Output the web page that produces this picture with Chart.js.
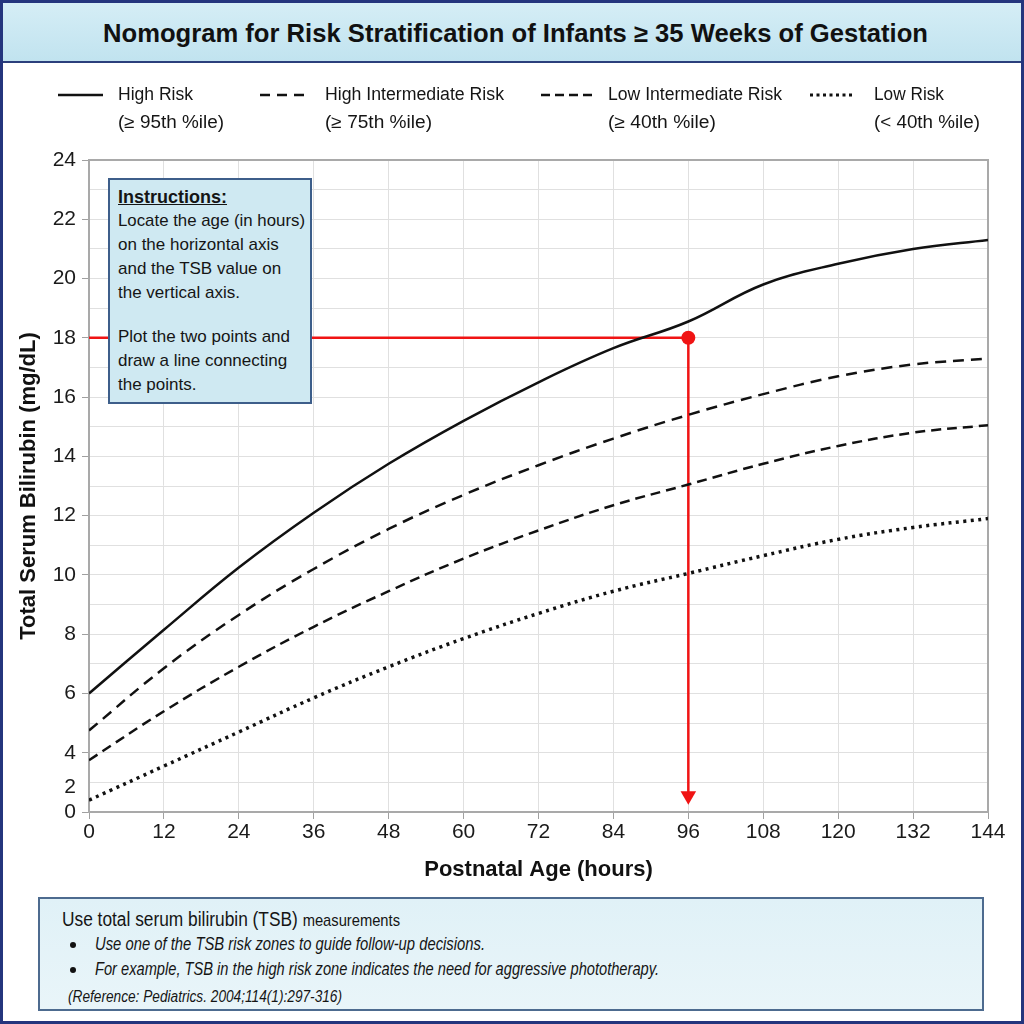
<!DOCTYPE html>
<html>
<head>
<meta charset="utf-8">
<script src="https://cdn.jsdelivr.net/npm/chart.js@4.4.0/dist/chart.umd.min.js"></script>
<style>
  html, body { margin: 0; padding: 0; background: #fff; }
  #page { position: relative; width: 1024px; height: 1024px; overflow: hidden; background: #fff;
          font-family: "Liberation Sans", Arial, sans-serif; color: #151515; }
  #chart { position: absolute; left: 0; top: 0; }
  #frame { position: absolute; left: 0; top: 0; width: 1024px; height: 1024px; box-sizing: border-box;
           border: 3px solid #24357d; pointer-events: none; }
  #titlebar { position: absolute; left: 0; top: 0; width: 1024px; height: 61px;
              background: linear-gradient(#d6eef6, #c1e3ef); border-bottom: 2px solid #2b3f7c; }
  .fit { position: absolute; display: inline-block; white-space: nowrap; transform-origin: left center; }
  #title { left: 103px; top: 18px; font-size: 25px; line-height: 30px; font-weight: bold; color: #111; }
  .leg { font-size: 18px; line-height: 22px; }
  #legendLines { position: absolute; left: 0; top: 80px; }
  #instr { position: absolute; left: 108px; top: 178px; width: 204px; height: 226px; box-sizing: border-box;
           background: #cfe9f2; border: 2px solid #3d5e8a; }
  #instr .fit { font-size: 17px; line-height: 24px; }
  #note { position: absolute; left: 38px; top: 897px; width: 946px; height: 114px; box-sizing: border-box;
          background: linear-gradient(#e0f1f7, #e9f5f9); border: 2px solid #4d6b8f; }
  .dot { position: absolute; width: 6px; height: 6px; border-radius: 3px; background: #111; }
</style>
</head>
<body>
<div id="page">
  <canvas id="chart" width="1024" height="1024"></canvas>

  <div id="titlebar"></div>
  <span class="fit" id="title" data-w="825">Nomogram for Risk Stratification of Infants ≥ 35 Weeks of Gestation</span>

  <svg id="legendLines" width="1024" height="30">
    <line x1="58" y1="15" x2="103" y2="15" stroke="#111" stroke-width="2.5"/>
    <line x1="260" y1="15" x2="305" y2="15" stroke="#111" stroke-width="2.5" stroke-dasharray="10 7"/>
    <line x1="541" y1="15" x2="592" y2="15" stroke="#111" stroke-width="2.5" stroke-dasharray="9 5"/>
    <line x1="810" y1="15" x2="855" y2="15" stroke="#111" stroke-width="3" stroke-dasharray="3 3.5"/>
  </svg>
  <span class="fit leg" style="left:118px;top:83px" data-w="75">High Risk</span>
  <span class="fit leg" style="left:118px;top:111px" data-w="106">(≥ 95th %ile)</span>
  <span class="fit leg" style="left:325px;top:83px" data-w="179">High Intermediate Risk</span>
  <span class="fit leg" style="left:325px;top:111px" data-w="107">(≥ 75th %ile)</span>
  <span class="fit leg" style="left:608px;top:83px" data-w="174">Low Intermediate Risk</span>
  <span class="fit leg" style="left:608px;top:111px" data-w="108">(≥ 40th %ile)</span>
  <span class="fit leg" style="left:874px;top:83px" data-w="70">Low Risk</span>
  <span class="fit leg" style="left:874px;top:111px" data-w="106">(&lt; 40th %ile)</span>

  <div id="instr">
    <span class="fit" style="left:8px;top:5px;font-weight:bold;font-size:18px;text-decoration:underline">Instructions:</span>
    <span class="fit" style="left:8px;top:29px" data-w="187">Locate the age (in hours)</span>
    <span class="fit" style="left:8px;top:53px">on the horizontal axis</span>
    <span class="fit" style="left:8px;top:77px">and the TSB value on</span>
    <span class="fit" style="left:8px;top:101px">the vertical axis.</span>
    <span class="fit" style="left:8px;top:145px">Plot the two points and</span>
    <span class="fit" style="left:8px;top:169px">draw a line connecting</span>
    <span class="fit" style="left:8px;top:193px">the points.</span>
  </div>

  <div id="note">
    <span class="fit" style="left:22px;top:8px;font-size:20px;line-height:24px" data-w="338">Use total serum bilirubin (TSB) <span style="font-size:17px">measurements</span></span>
    <div class="dot" style="left:30px;top:43px"></div>
    <span class="fit" style="left:55px;top:34px;font-size:18px;line-height:22px;font-style:italic" data-w="390">Use one of the TSB risk zones to guide follow-up decisions.</span>
    <div class="dot" style="left:30px;top:68px"></div>
    <span class="fit" style="left:55px;top:59px;font-size:18px;line-height:22px;font-style:italic" data-w="564">For example, TSB in the high risk zone indicates the need for aggressive phototherapy.</span>
    <span class="fit" style="left:28px;top:88px;font-size:16px;line-height:20px;font-style:italic" data-w="274">(Reference: Pediatrics. 2004;114(1):297-316)</span>
  </div>

  <div id="frame"></div>
</div>

<script>
// Postnatal age (hours) and TSB percentile curves (mg/dL)
const hours = [0, 12, 24, 36, 48, 60, 72, 84, 96, 108, 120, 132, 144];
const highRisk = [6.0, 8.15, 10.25, 12.1, 13.75, 15.2, 16.5, 17.65, 18.55, 19.8, 20.5, 21.0, 21.3];
const highIntermediate = [4.75, 6.85, 8.65, 10.2, 11.55, 12.7, 13.7, 14.6, 15.4, 16.1, 16.7, 17.1, 17.3];
const lowIntermediate = [3.75, 5.4, 6.9, 8.25, 9.45, 10.55, 11.5, 12.35, 13.05, 13.75, 14.35, 14.8, 15.05];
const lowRisk = [2.4, 3.55, 4.7, 5.85, 6.9, 7.85, 8.7, 9.45, 10.05, 10.65, 11.2, 11.6, 11.9];

// example patient plotted on the chart
const markAge = 96;
const markTsb = 18;
const arrowTip = 2.55;

// y axis: the plot floor is labelled "0", with a "2" squeezed in just above it
const yFloor = 2;
const yTop = 24;
const squeezedTwo = 2.85;

const red = "#f01414";

function curve(values) {
  return hours.map((h, i) => ({ x: h, y: values[i] }));
}

// squeeze each text run to the width it has in the picture
document.querySelectorAll("[data-w]").forEach(el => {
  const w = el.getBoundingClientRect().width;
  el.style.transform = "scaleX(" + (el.dataset.w / w) + ")";
});

const plotFrame = {
  id: "plotFrame",
  beforeDatasetsDraw(chart) {
    const { ctx, chartArea: a } = chart;
    ctx.save();
    ctx.strokeStyle = "#a9a9a9";
    ctx.lineWidth = 2;
    ctx.strokeRect(a.left, a.top, a.right - a.left, a.bottom - a.top);
    ctx.restore();
  }
};

Chart.defaults.font.family = "'Liberation Sans', Arial, sans-serif";
Chart.defaults.color = "#1a1a1a";

const lineBase = {
  borderColor: "#111",
  borderWidth: 2.5,
  pointRadius: 0,
  fill: false,
  tension: 0.4
};

new Chart(document.getElementById("chart"), {
  type: "line",
  data: {
    datasets: [
      { ...lineBase, label: "High Risk", data: curve(highRisk) },
      { ...lineBase, label: "High Intermediate Risk", data: curve(highIntermediate), borderDash: [11, 7] },
      { ...lineBase, label: "Low Intermediate Risk", data: curve(lowIntermediate), borderDash: [10, 6] },
      { ...lineBase, label: "Low Risk", data: curve(lowRisk), borderDash: [3, 4.5], borderWidth: 3.5 },
      {
        label: "TSB reading", data: [{ x: 0, y: markTsb }, { x: markAge, y: markTsb }],
        borderColor: red, borderWidth: 2.5, pointRadius: [0, 7],
        pointBackgroundColor: red, pointBorderWidth: 0
      },
      {
        label: "Age", data: [{ x: markAge, y: markTsb }, { x: markAge, y: arrowTip }],
        borderColor: red, borderWidth: 2.5, pointRadius: [0, 9], pointStyle: "triangle",
        pointRotation: 180, pointBackgroundColor: red, pointBorderWidth: 0
      }
    ]
  },
  options: {
    responsive: false,
    animation: false,
    devicePixelRatio: 1,
    events: [],
    layout: { padding: { left: 0, top: 160, right: 36, bottom: 132 } },
    plugins: { legend: { display: false }, tooltip: { enabled: false } },
    scales: {
      x: {
        type: "linear",
        min: 0,
        max: 144,
        afterFit: scale => { scale.height = 80; },
        ticks: { stepSize: 12, autoSkip: false, maxRotation: 0, padding: 1, font: { size: 21 }, color: "#1a1a1a" },
        grid: { color: "#e0e0e0", tickLength: 7, tickColor: "#a0a0a0" },
        border: { color: "#a0a0a0", width: 2 },
        title: {
          display: true, text: "Postnatal Age (hours)", color: "#111",
          font: { size: 22, weight: "bold" }, padding: { top: 0, bottom: 9 }
        }
      },
      y: {
        type: "linear",
        min: yFloor,
        max: yTop,
        afterFit: scale => { scale.width = 89; },
        afterBuildTicks: scale => {
          const t = [];
          for (let v = yFloor; v <= yTop; v++) t.push({ value: v });
          t.splice(1, 0, { value: squeezedTwo });
          scale.ticks = t;
        },
        ticks: {
          autoSkip: false,
          padding: 6,
          font: { size: 21 },
          color: "#1a1a1a",
          callback: value => {
            if (value === yFloor) return "0";
            if (value === squeezedTwo) return "2";
            return value % 2 === 0 ? String(value) : "";
          }
        },
        grid: {
          color: ctx => (ctx.tick && ctx.tick.value === squeezedTwo) ? "rgba(0,0,0,0)" : "#e0e0e0",
          tickColor: ctx => (ctx.tick && ctx.tick.value % 2 === 0) ? "#a0a0a0" : "rgba(0,0,0,0)",
          tickLength: 7
        },
        border: { color: "#a0a0a0", width: 2 },
        title: {
          display: true, text: "Total Serum Bilirubin (mg/dL)", color: "#111",
          font: { size: 22, weight: "bold" }, padding: { top: 16, bottom: 0 }
        }
      }
    }
  },
  plugins: [plotFrame]
});
</script>
</body>
</html>
